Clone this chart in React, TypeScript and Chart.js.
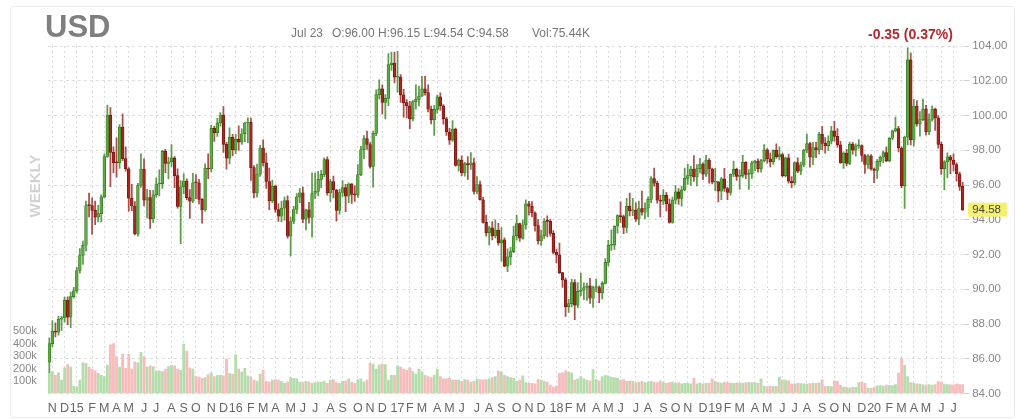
import { useEffect, useRef } from "react";
import { Chart, registerables } from "chart.js";

Chart.register(...registerables);

// weekly candles, week labelled by its Friday
const firstFriday = Date.UTC(2014, 9, 31);
const firstOpen = 85.8;

const closes = [
  86.87, 87.59, 87.53, 88.28, 88.36, 89.36, 88.40, 89.58, 89.91, 91.08,
  91.94, 92.53, 94.82, 94.81, 94.54, 94.15, 94.35, 95.32, 97.64, 100.02,
  97.88, 97.29, 97.27, 99.33, 97.52, 96.93, 95.24, 94.79, 93.18, 95.99,
  96.91, 95.13, 95.28, 94.05, 95.44, 96.06, 96.08, 97.94, 97.24, 97.34,
  97.56, 96.54, 94.77, 95.90, 96.23, 95.27, 95.07, 96.13, 96.12, 95.17,
  94.56, 96.97, 96.92, 99.26, 99.01, 99.58, 100.03, 98.34, 97.54, 98.74,
  98.02, 98.63, 98.47, 98.95, 99.57, 99.61, 97.00, 95.55, 96.62, 98.13,
  97.28, 96.20, 95.08, 95.94, 94.59, 94.20, 94.67, 95.11, 93.05, 93.90,
  94.59, 95.32, 95.55, 94.04, 94.57, 94.13, 95.51, 95.63, 96.32, 96.61,
  97.47, 95.54, 96.20, 95.71, 94.54, 95.57, 95.85, 95.35, 96.06, 95.46,
  95.43, 96.60, 98.04, 98.67, 98.33, 97.07, 98.97, 101.20, 101.53, 100.76,
  100.99, 102.93, 103.01, 102.21, 102.21, 101.19, 100.74, 100.55, 99.80, 100.80,
  100.93, 101.12, 101.53, 101.32, 100.36, 99.75, 100.35, 101.08, 100.56, 99.81,
  99.05, 98.58, 99.22, 97.13, 97.43, 96.69, 97.23, 97.16, 97.27, 95.63,
  96.02, 95.15, 93.85, 93.26, 93.53, 93.07, 93.41, 92.67, 92.85, 91.33,
  91.86, 92.17, 93.08, 93.78, 92.94, 93.70, 94.91, 94.78, 94.39, 93.66,
  92.78, 93.08, 93.93, 93.91, 93.22, 92.12, 91.97, 90.96, 90.54, 89.00,
  89.17, 90.39, 89.08, 89.88, 89.95, 90.10, 90.19, 89.48, 90.10, 90.10,
  89.79, 90.34, 91.55, 92.53, 92.54, 93.64, 94.24, 94.18, 93.56, 94.79,
  94.51, 94.56, 94.04, 94.65, 94.43, 94.67, 95.17, 96.37, 96.10, 95.12,
  95.07, 95.40, 94.92, 93.85, 95.13, 95.61, 95.23, 95.72, 96.38, 96.54,
  96.91, 96.46, 96.94, 97.20, 96.62, 97.44, 96.92, 96.17, 96.18, 95.65,
  96.35, 95.80, 95.58, 96.62, 96.90, 96.50, 96.51, 97.31, 96.61, 96.64,
  97.28, 97.38, 96.93, 97.40, 98.02, 97.51, 97.33, 97.99, 97.63, 97.75,
  96.54, 97.56, 96.22, 96.13, 97.29, 96.80, 97.15, 98.01, 98.39, 97.60,
  98.16, 98.03, 98.92, 98.40, 98.26, 98.52, 99.12, 98.80, 98.31, 97.28,
  97.83, 97.24, 98.35, 98.00, 98.26, 98.27, 97.70, 97.19, 97.68, 96.92,
  96.84, 97.36, 97.61, 97.87, 97.39, 98.69, 99.12, 99.25, 98.13, 95.95,
  98.75, 103.20, 98.60, 100.54, 99.52, 99.76, 100.38, 99.06, 99.77, 100.37,
  99.87, 98.34, 96.94, 97.33, 97.62, 97.43, 97.18, 96.65, 95.92, 94.58,
];

const highs = [
  87.20, 88.19, 88.07, 88.44, 88.46, 89.55, 89.56, 89.84, 90.11, 91.26,
  92.34, 92.77, 95.08, 95.53, 95.26, 95.08, 94.83, 95.44, 97.79, 100.60,
  100.45, 98.20, 98.72, 99.48, 100.08, 98.20, 97.00, 96.04, 95.04, 96.10,
  97.80, 97.50, 95.75, 95.70, 95.70, 96.40, 96.88, 97.99, 98.05, 97.60,
  98.33, 97.64, 96.93, 96.26, 96.66, 96.35, 95.73, 96.67, 96.60, 96.33,
  95.22, 97.22, 97.80, 99.43, 99.37, 99.83, 100.17, 100.51, 98.45, 99.29,
  98.92, 98.92, 99.40, 99.23, 99.62, 99.86, 99.85, 97.12, 97.20, 98.28,
  98.60, 97.84, 96.98, 96.28, 96.00, 94.92, 95.07, 95.30, 95.38, 94.16,
  94.77, 95.51, 95.80, 95.88, 94.62, 95.00, 96.70, 96.68, 96.78, 96.84,
  97.57, 97.62, 96.33, 96.52, 95.75, 95.77, 96.26, 96.04, 96.12, 96.10,
  95.95, 97.17, 98.22, 98.84, 99.11, 98.44, 99.11, 101.48, 102.05, 101.77,
  101.20, 103.56, 103.65, 103.65, 103.70, 102.35, 101.50, 100.92, 100.82, 100.86,
  101.76, 101.70, 102.26, 102.26, 101.77, 100.54, 100.59, 101.18, 101.31, 100.63,
  99.90, 99.26, 99.71, 99.28, 97.51, 97.68, 97.31, 97.64, 97.87, 97.55,
  96.48, 96.22, 95.29, 94.27, 93.64, 93.89, 93.99, 93.80, 93.55, 92.96,
  92.33, 92.41, 93.64, 94.27, 93.81, 93.98, 95.15, 95.06, 95.04, 94.46,
  94.01, 93.41, 94.07, 94.22, 94.03, 93.37, 92.31, 92.66, 90.98, 90.65,
  89.42, 90.57, 90.56, 90.39, 90.93, 90.37, 90.35, 90.63, 90.18, 90.58,
  90.20, 90.44, 91.77, 92.82, 93.42, 93.65, 94.28, 95.03, 94.27, 95.24,
  95.53, 95.24, 94.97, 95.08, 95.65, 94.97, 95.32, 96.48, 96.98, 96.22,
  95.40, 95.74, 95.58, 95.21, 95.31, 95.96, 95.79, 95.94, 96.97, 97.20,
  97.07, 97.69, 97.18, 97.53, 97.27, 97.71, 97.52, 96.98, 96.96, 96.20,
  96.44, 96.96, 95.86, 96.64, 97.37, 96.98, 96.87, 97.71, 97.35, 96.89,
  97.38, 97.43, 97.50, 97.48, 98.33, 98.09, 97.83, 98.03, 98.37, 98.20,
  97.84, 97.60, 97.78, 96.49, 97.33, 97.56, 97.32, 98.05, 98.93, 98.45,
  98.45, 98.45, 99.03, 99.37, 98.73, 98.83, 99.37, 99.67, 99.25, 98.51,
  97.91, 98.05, 98.47, 98.45, 98.37, 98.62, 98.31, 97.76, 97.75, 97.75,
  96.97, 97.47, 97.66, 97.95, 98.19, 98.73, 99.16, 99.91, 99.38, 98.20,
  98.81, 103.90, 103.60, 100.93, 100.86, 100.23, 100.94, 100.58, 100.09, 100.56,
  100.43, 99.99, 98.47, 97.40, 97.85, 97.71, 97.80, 97.27, 96.75, 96.15,
];

const lows = [
  85.20, 86.70, 87.25, 87.35, 87.63, 88.10, 87.96, 87.79, 89.48, 89.77,
  90.93, 91.43, 92.20, 94.16, 93.15, 93.72, 93.88, 93.88, 95.25, 97.59,
  95.90, 96.70, 96.45, 96.95, 97.40, 96.80, 94.50, 94.52, 93.13, 93.06,
  95.86, 94.80, 94.11, 93.50, 93.83, 95.29, 95.37, 95.80, 96.71, 96.35,
  97.07, 95.85, 94.66, 92.62, 95.50, 95.16, 94.08, 94.98, 95.22, 94.91,
  93.81, 94.50, 96.36, 96.75, 98.51, 98.80, 99.38, 97.87, 96.91, 97.21,
  97.68, 97.80, 97.99, 98.33, 98.50, 98.43, 96.27, 95.25, 95.30, 96.50,
  97.10, 95.80, 94.58, 94.99, 94.43, 93.90, 93.88, 93.98, 92.94, 91.92,
  93.78, 94.35, 94.98, 93.83, 93.42, 93.80, 93.00, 95.21, 95.37, 95.84,
  96.48, 95.41, 95.06, 95.25, 93.92, 94.32, 95.34, 94.47, 94.99, 94.94,
  95.05, 95.29, 96.53, 97.52, 98.05, 96.97, 95.88, 98.84, 100.95, 100.08,
  99.81, 100.57, 102.60, 101.88, 101.34, 100.75, 99.90, 99.86, 99.23, 99.69,
  100.36, 100.55, 101.08, 101.17, 100.20, 99.51, 98.85, 100.14, 100.30, 99.50,
  98.85, 98.34, 98.51, 97.09, 96.80, 96.54, 96.51, 96.32, 96.90, 95.47,
  95.49, 95.13, 93.81, 93.06, 92.55, 92.84, 92.96, 92.53, 91.62, 91.30,
  91.01, 91.40, 92.10, 92.83, 92.75, 92.88, 93.46, 94.27, 94.17, 93.34,
  92.59, 92.52, 92.92, 93.01, 93.06, 92.05, 91.52, 90.90, 90.11, 88.44,
  88.67, 88.98, 88.25, 88.94, 89.61, 89.40, 89.36, 89.19, 88.95, 89.86,
  89.23, 89.44, 90.30, 91.34, 92.24, 92.29, 93.23, 93.85, 93.20, 93.25,
  94.22, 94.23, 93.90, 93.71, 94.26, 94.05, 94.18, 94.99, 95.93, 94.95,
  94.16, 94.87, 94.51, 93.81, 93.81, 94.91, 94.88, 94.78, 95.67, 96.04,
  95.97, 96.21, 95.94, 96.70, 96.30, 96.50, 96.10, 96.06, 95.68, 95.03,
  95.15, 95.63, 95.16, 95.41, 96.48, 96.27, 95.75, 96.44, 96.37, 95.74,
  96.38, 96.83, 96.74, 96.74, 97.33, 97.26, 97.04, 97.18, 97.53, 97.44,
  96.46, 96.46, 96.11, 95.84, 96.00, 96.71, 96.59, 97.06, 97.86, 97.02,
  97.17, 97.57, 97.78, 98.03, 97.83, 97.99, 98.37, 98.52, 98.18, 97.24,
  96.96, 97.10, 97.17, 97.77, 97.66, 98.10, 97.36, 96.67, 96.96, 96.86,
  96.14, 96.38, 97.09, 97.29, 97.34, 97.34, 98.60, 99.05, 97.90, 95.84,
  94.65, 98.30, 98.30, 98.23, 99.39, 98.81, 99.70, 98.87, 98.89, 99.68,
  99.14, 98.12, 96.61, 95.71, 96.42, 96.65, 96.81, 96.22, 95.69, 94.54,
];

// thousands of contracts
const volumes = [
  167, 180, 150, 170, 110, 210, 235, 215, 60, 55,
  110, 250, 245, 215, 200, 185, 165, 150, 140, 230,
  395, 405, 300, 215, 320, 205, 320, 200, 255, 250,
  335, 300, 215, 225, 220, 185, 185, 180, 195, 220,
  230, 225, 200, 190, 400, 345, 210, 200, 140, 135,
  125, 130, 155, 170, 140, 150, 150, 145, 280, 165,
  160, 315, 200, 175, 205, 145, 135, 110, 100, 160,
  190, 100, 95, 110, 115, 110, 100, 85, 95, 130,
  125, 120, 95, 90, 100, 95, 85, 90, 95, 95,
  100, 85, 110, 115, 90, 85, 100, 105, 120, 95,
  85, 115, 120, 95, 110, 245, 240, 200, 234, 240,
  235, 110, 150, 150, 225, 215, 200, 190, 210, 180,
  160, 200, 175, 150, 140, 130, 150, 200, 140, 120,
  120, 125, 110, 110, 110, 100, 115, 110, 95, 100,
  120, 115, 110, 115, 120, 130, 140, 185, 175, 150,
  140, 130, 125, 100, 110, 145, 90, 85, 85, 80,
  115, 110, 100, 95, 70, 55, 65, 165, 170, 185,
  175, 170, 110, 120, 140, 120, 110, 105, 195, 115,
  105, 140, 150, 145, 135, 130, 125, 110, 115, 100,
  105, 100, 90, 95, 100, 90, 95, 100, 95, 90,
  105, 95, 85, 90, 95, 85, 90, 80, 85, 85,
  80, 125, 80, 86, 80, 85, 86, 121, 99, 90,
  86, 95, 90, 86, 85, 88, 86, 86, 90, 92,
  88, 90, 85, 121, 60, 59, 62, 58, 60, 134,
  113, 110, 105, 81, 80, 85, 82, 80, 78, 82,
  86, 85, 88, 113, 59, 60, 58, 105, 100, 70,
  55, 50, 48, 55, 52, 91, 95, 85, 46, 44,
  50, 64, 66, 62, 70, 68, 66, 75, 167, 288,
  230, 140, 90, 85, 80, 78, 73, 72, 75, 70,
  74, 98, 95, 78, 75, 73, 72, 80, 74, 75,
];

const priceTicks = [84, 86, 88, 90, 92, 94, 96, 98, 100, 102, 104];
const volumeTicks = [100, 200, 300, 400, 500];
const monthLetters = ["J", "F", "M", "A", "M", "J", "J", "A", "S", "O", "N", "D"];

const weekDates = closes.map((_, i) => new Date(firstFriday + i * 7 * 86400000));
const opens = closes.map((_, i) => (i === 0 ? firstOpen : closes[i - 1]));
const rising = closes.map((c, i) => c >= opens[i]);
const monthStarts = weekDates
  .map((d, i) => (i > 0 && d.getUTCMonth() !== weekDates[i - 1].getUTCMonth() ? i : -1))
  .filter((i) => i >= 0);

const tickLabel = (i: number) => {
  const d = weekDates[i];
  if (!d) return "";
  return d.getUTCMonth() === 0
    ? String(d.getUTCFullYear()).slice(2)
    : monthLetters[d.getUTCMonth()];
};

const FONT = "'Liberation Sans', Arial, Helvetica, sans-serif";

const lastPricePlugin = {
  id: "lastPrice",
  afterDraw(chart: any) {
    const last = closes[closes.length - 1];
    const y = chart.scales.y.getPixelForValue(last);
    const x = chart.chartArea.right + 4;
    const ctx = chart.ctx;
    ctx.save();
    ctx.fillStyle = "#f5f06e";
    ctx.fillRect(x, y - 7, 39, 14);
    ctx.fillStyle = "#444";
    ctx.font = `11.5px ${FONT}`;
    ctx.textBaseline = "middle";
    ctx.fillText(last.toFixed(2), x + 4, y + 0.5);
    ctx.restore();
  },
};

function CandleChart() {
  const canvasRef = useRef<HTMLCanvasElement | null>(null);

  useEffect(() => {
    if (!canvasRef.current) return;
    Chart.defaults.font.family = FONT;

    const chart = new Chart(canvasRef.current, {
      type: "bar",
      data: {
        labels: weekDates.map((d) => d.toISOString().slice(0, 10)),
        datasets: [
          {
            label: "body",
            data: opens.map((o, i) => [o, closes[i]]) as any,
            backgroundColor: rising.map((r) => (r ? "#5cab41" : "#a9261e")),
            borderColor: rising.map((r) => (r ? "#367524" : "#701611")),
            borderWidth: 0.7,
            borderSkipped: false,
            barThickness: 2.8,
            minBarLength: 1,
            grouped: false,
            yAxisID: "y",
            order: 1,
          },
          {
            label: "wick",
            data: lows.map((l, i) => [l, highs[i]]) as any,
            backgroundColor: rising.map((r) =>
              r ? "rgba(66,140,45,0.85)" : "rgba(150,38,32,0.8)"
            ),
            barThickness: 1.1,
            grouped: false,
            yAxisID: "y",
            order: 2,
          },
          {
            label: "volume",
            data: volumes,
            backgroundColor: rising.map((r) => (r ? "#b5dcab" : "#f6bcbc")),
            barPercentage: 0.92,
            categoryPercentage: 1,
            grouped: false,
            yAxisID: "v",
            order: 3,
          },
        ],
      },
      options: {
        animation: false,
        responsive: false,
        events: [],
        layout: { padding: { top: 46, left: 0, right: 0, bottom: 0 } },
        plugins: {
          legend: { display: false },
          tooltip: { enabled: false },
        },
        scales: {
          x: {
            offset: true,
            grid: { offset: false, color: "#dadada", drawTicks: false },
            border: { display: false, dash: [2, 3] },
            afterBuildTicks: (s: any) => {
              s.ticks = monthStarts.map((v) => ({ value: v }));
            },
            afterFit: (s: any) => {
              s.height = 25.5;
            },
            ticks: {
              autoSkip: false,
              maxRotation: 0,
              minRotation: 0,
              padding: 8,
              color: "#666",
              font: { size: 12.5 },
              callback: (v: any) => tickLabel(Number(v)),
            },
          },
          y: {
            position: "right",
            min: 84,
            max: 104,
            afterBuildTicks: (s: any) => {
              s.ticks = priceTicks.map((v) => ({ value: v }));
            },
            afterFit: (s: any) => {
              s.width = 59.8;
            },
            grid: {
              color: "#dcdcdc",
              drawTicks: true,
              tickLength: 5,
              tickColor: "#cfcfcf",
            },
            border: { display: false, dash: [3, 3] },
            ticks: {
              padding: 3,
              color: "#888",
              font: { size: 11.5 },
              callback: (v: any) => Number(v).toFixed(2),
            },
          },
          v: {
            position: "left",
            min: 0,
            max: 2800,
            afterBuildTicks: (s: any) => {
              s.ticks = volumeTicks.map((v) => ({ value: v }));
            },
            afterFit: (s: any) => {
              s.width = 47.8;
            },
            grid: { display: false },
            border: { display: false },
            ticks: {
              padding: 3,
              color: "#888",
              font: { size: 11 },
              callback: (v: any) => `${v}k`,
            },
          },
        },
      },
      plugins: [lastPricePlugin],
    });

    return () => chart.destroy();
  }, []);

  return <canvas ref={canvasRef} width={1024} height={419} style={{ display: "block" }} />;
}

export default function App() {
  const text = { position: "absolute" as const, fontFamily: FONT, whiteSpace: "nowrap" as const };
  return (
    <div style={{ position: "fixed", left: 0, top: 0, width: 1024, height: 419, background: "#fff", overflow: "hidden" }}>
      <div
        style={{
          position: "absolute",
          left: 10,
          top: 6,
          width: 1003,
          height: 410,
          border: "1px solid #ececec",
          borderRadius: 3,
        }}
      />
      <CandleChart />
      <div style={{ ...text, left: 45, top: 11, fontSize: 31, lineHeight: "31px", fontWeight: 700, color: "#7f7f7f" }}>
        USD
      </div>
      <div style={{ ...text, left: 291, top: 27, fontSize: 12, lineHeight: "12px", color: "#777" }}>Jul 23</div>
      <div style={{ ...text, left: 332, top: 27, fontSize: 12, lineHeight: "12px", color: "#777" }}>
        O:96.00 H:96.15 L:94.54 C:94.58
      </div>
      <div style={{ ...text, left: 532, top: 27, fontSize: 12, lineHeight: "12px", color: "#777" }}>Vol:75.44K</div>
      <div style={{ ...text, left: 868, top: 27, fontSize: 14, lineHeight: "14px", fontWeight: 700, color: "#b8262b" }}>
        -0.35 (0.37%)
      </div>
      <div
        style={{
          ...text,
          left: 34,
          top: 186,
          fontSize: 15,
          lineHeight: "15px",
          fontWeight: 700,
          color: "#d2d2d2",
          transform: "translate(-50%, -50%) rotate(-90deg)",
        }}
      >
        WEEKLY
      </div>
    </div>
  );
}
